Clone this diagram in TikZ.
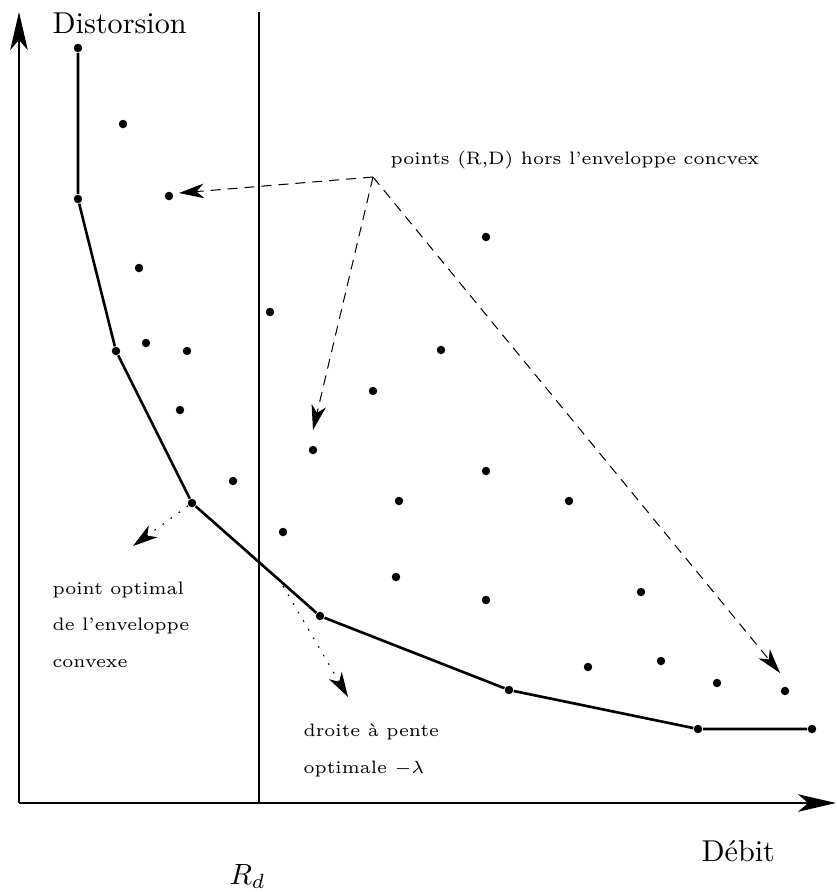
\documentclass[tikz,border=0pt]{standalone}
\usetikzlibrary{arrows.meta}
\begin{document}
\begin{tikzpicture}[x=0.3413pt,y=-0.3413pt,
  dot/.style={circle,fill,inner sep=0pt,minimum size=2.9pt},
  axis/.style={line width=0.45pt,-{Stealth[length=13pt,width=6pt,inset=3.5pt]}},
  hull/.style={line width=0.9pt},
  pointer/.style={line width=0.35pt,-{Stealth[length=8.5pt,width=5pt,inset=2.5pt]}},
  dashline/.style={dash pattern=on 3.4pt off 2.4pt},
  dotline/.style={dash pattern=on 0.6pt off 2.8pt},
  lbl/.style={inner sep=0pt,anchor=base west,font=\fontsize{10.3}{12}\selectfont},
  small/.style={inner sep=0pt,anchor=base west,align=left,font=\fontsize{6.15}{12.3}\selectfont}]
\useasboundingbox (0,0) rectangle (836,892);

% axes and the rate threshold R_d
\coordinate (o) at (19,803);
\coordinate (ytop) at (19,12);
\coordinate (xend) at (836,803);
\coordinate (rdtop) at (259,12);
\coordinate (rdbot) at (259,803);
\draw[axis] (o) -- (ytop);
\draw[axis] (o) -- (xend);
\draw[line width=0.45pt] (rdtop) -- (rdbot);

\node[lbl] (dist) at (52,33) {Distorsion};
\node[lbl] (debit) at (701,861) {D\'ebit};
\node[lbl] (rd) at (229,884) {$R_d$};

% convex hull points
\node[dot] (h1) at (78,48) {};
\node[dot] (h2) at (78,199) {};
\node[dot] (h3) at (116,351) {};
\node[dot] (h4) at (192,503) {};
\node[dot] (h5) at (320,616) {};
\node[dot] (h6) at (509,690) {};
\node[dot] (h7) at (698,729) {};
\node[dot] (h8) at (812,729) {};
\draw[hull] (h1) -- (h2) -- (h3) -- (h4) -- (h5) -- (h6) -- (h7) -- (h8);

% (R,D) points off the hull
\node[dot] (p1) at (123,124) {};
\node[dot] (p2) at (169,196) {};
\node[dot] (p3) at (139,268) {};
\node[dot] (p4) at (270,312) {};
\node[dot] (p5) at (486,237) {};
\node[dot] (p6) at (146,343) {};
\node[dot] (p7) at (187,351) {};
\node[dot] (p8) at (441,350) {};
\node[dot] (p9) at (373,391) {};
\node[dot] (p10) at (180,410) {};
\node[dot] (p11) at (313,450) {};
\node[dot] (p12) at (486,471) {};
\node[dot] (p13) at (233,481) {};
\node[dot] (p14) at (399,501) {};
\node[dot] (p15) at (569,501) {};
\node[dot] (p16) at (283,532) {};
\node[dot] (p17) at (396,577) {};
\node[dot] (p18) at (486,600) {};
\node[dot] (p19) at (641,592) {};
\node[dot] (p20) at (588,667) {};
\node[dot] (p21) at (661,661) {};
\node[dot] (p22) at (717,683) {};
\node[dot] (p23) at (785,691) {};

% label for the off-hull points and its dashed pointers
\node[small] (offlbl) at (390,164) {points (R,D) hors l'enveloppe concvex};
\coordinate (src) at (373,177);
\coordinate (t1) at (179,193);
\coordinate (t2) at (313,430);
\coordinate (t3) at (780,673);
\draw[pointer,dashline] (src) -- (t1);
\draw[pointer,dashline] (src) -- (t2);
\draw[pointer,dashline] (src) -- (t3);

% optimal point and optimal slope line
\coordinate (t4) at (133,546);
\draw[pointer,dotline] (h4) -- (t4);
\coordinate (s5) at (283,586);
\coordinate (t5) at (348,697);
\draw[pointer,dotline] (s5) -- (t5);

% multi-line labels: the base anchor sits on the last line
\node[small] (optlbl) at (52,667) {point optimal\\de l'enveloppe\\convexe};
\node[small] (slopelbl) at (303,773) {droite \`a pente\\optimale $-\lambda$};
\end{tikzpicture}
\end{document}
